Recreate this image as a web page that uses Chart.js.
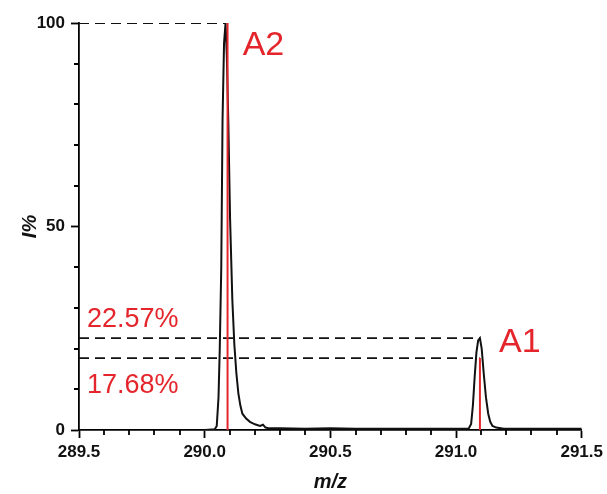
<!DOCTYPE html>
<html>
  <head>
    <script src="https://cdn.jsdelivr.net/npm/chart.js"></script>
    <style>
      body { margin: 0; background: #fff; }
      canvas { display: block; }
    </style>
  </head>
  <body>
    <canvas id="msChart" width="607" height="494"></canvas>

    <script>
      // profile spectrum, m/z vs relative intensity
      const mz = [290.00, 290.040, 290.048, 290.055, 290.060, 290.066, 290.071, 290.077, 290.083, 290.088,
                  290.094, 290.101, 290.110, 290.118, 290.126, 290.134, 290.142, 290.150, 290.165, 290.180,
                  290.200, 290.220, 290.232, 290.242, 290.258, 290.30, 290.40, 290.50, 290.60, 290.70,
                  290.80, 290.90, 291.00, 291.050, 291.060, 291.067, 291.074, 291.081, 291.088, 291.095,
                  291.102, 291.110, 291.119, 291.128, 291.136, 291.145, 291.160, 291.190, 291.30, 291.40, 291.50];
      const intensity = [0, 0.2, 1, 8, 20, 40, 76, 95, 100, 92,
                         76, 52, 32, 21, 14, 9, 6, 4, 2.8, 2,
                         1.4, 1.0, 1.3, 0.6, 0.4, 0.4, 0.3, 0.4, 0.3, 0.3,
                         0.3, 0.3, 0.3, 0.3, 1.5, 6, 13, 19, 22, 22.57,
                         20, 14, 8, 4, 2, 1, 0.6, 0.3, 0.3, 0.3, 0.3];

      // centroid sticks
      const stickMz = [290.091, 291.095];
      const stickHeight = [100, 17.68];

      // dashed reference levels: level, end of line (m/z)
      const refLevel = [100, 22.57, 17.68];
      const refEnd = [290.083, 291.095, 291.094];

      const peakNames = ['A2', 'A1'];
      const levelLabels = ['22.57%', '17.68%'];

      const red = '#e4262c';

      const datasets = [];
      datasets.push({
        data: mz.map((v, i) => ({ x: v, y: intensity[i] })),
        borderColor: '#111', borderWidth: 2, pointRadius: 0, tension: 0, order: 3
      });
      stickMz.forEach((m, i) => {
        datasets.push({
          data: [{ x: m, y: 0 }, { x: m, y: stickHeight[i] }],
          borderColor: red, borderWidth: 2, pointRadius: 0, order: 1
        });
      });
      refLevel.forEach((lv, i) => {
        datasets.push({
          data: [{ x: 289.5, y: lv }, { x: refEnd[i], y: lv }],
          borderColor: '#111', borderWidth: 1.8, borderDash: [10, 6], pointRadius: 0, order: 2
        });
      });

      // minor ticks + red annotations
      const extras = {
        id: 'extras',
        afterDraw(chart) {
          const { ctx, scales: { x, y } } = chart;
          ctx.save();
          ctx.strokeStyle = '#000';
          ctx.lineWidth = 1.8;
          ctx.beginPath();
          for (let k = 1; k < 20; k++) {
            if (k % 5 === 0) continue;
            const px = Math.round(x.getPixelForValue(289.5 + k * 0.1));
            ctx.moveTo(px, y.bottom);
            ctx.lineTo(px, y.bottom + 5);
          }
          for (let k = 1; k < 10; k++) {
            if (k % 5 === 0) continue;
            const py = Math.round(y.getPixelForValue(k * 10));
            ctx.moveTo(x.left, py);
            ctx.lineTo(x.left - 5, py);
          }
          ctx.stroke();

          ctx.fillStyle = red;
          ctx.textBaseline = 'alphabetic';
          ctx.textAlign = 'left';
          ctx.font = '34px "Liberation Sans", Arial';
          ctx.fillText(peakNames[0], x.getPixelForValue(290.151), y.getPixelForValue(92.1));
          ctx.fillText(peakNames[1], x.getPixelForValue(291.171), y.getPixelForValue(19.2));
          ctx.font = '27px "Liberation Sans", Arial';
          ctx.fillText(levelLabels[0], x.getPixelForValue(289.532), y.getPixelForValue(25.3));
          ctx.fillText(levelLabels[1], x.getPixelForValue(289.532), y.getPixelForValue(9.1));
          ctx.restore();
        }
      };

      const tickFont = { family: '"Liberation Sans", Arial', size: 17, weight: 'bold' };
      const titleFont = { family: '"Liberation Sans", Arial', size: 20, weight: 'bold', style: 'italic' };

      new Chart(document.getElementById('msChart'), {
        type: 'scatter',
        data: { datasets: datasets },
        options: {
          responsive: false,
          animation: false,
          showLine: true,
          layout: { padding: { top: 23, right: 24, left: 0, bottom: 0 } },
          plugins: { legend: { display: false }, tooltip: { enabled: false } },
          scales: {
            x: {
              type: 'linear', min: 289.5, max: 291.5,
              ticks: { stepSize: 0.5, color: '#111', font: tickFont, padding: 4,
                       callback: v => v.toFixed(1) },
              grid: { drawOnChartArea: false, tickLength: 8, tickColor: '#000', tickWidth: 1.8 },
              border: { color: '#000', width: 1.8 },
              title: { display: true, text: 'm/z', color: '#111', font: titleFont, padding: { top: 0, bottom: 0 } },
              afterFit: s => { s.height = 64; }
            },
            y: {
              min: 0, max: 100,
              ticks: { stepSize: 50, color: '#111', font: tickFont, padding: 6 },
              grid: { drawOnChartArea: false, tickLength: 8, tickColor: '#000', tickWidth: 1.8 },
              border: { color: '#000', width: 1.8 },
              title: { display: true, text: 'I%', color: '#111', font: titleFont, padding: { top: 18, bottom: 0 } },
              afterFit: s => { s.width = 79; }
            }
          }
        },
        plugins: [extras]
      });
    </script>
  </body>
</html>
